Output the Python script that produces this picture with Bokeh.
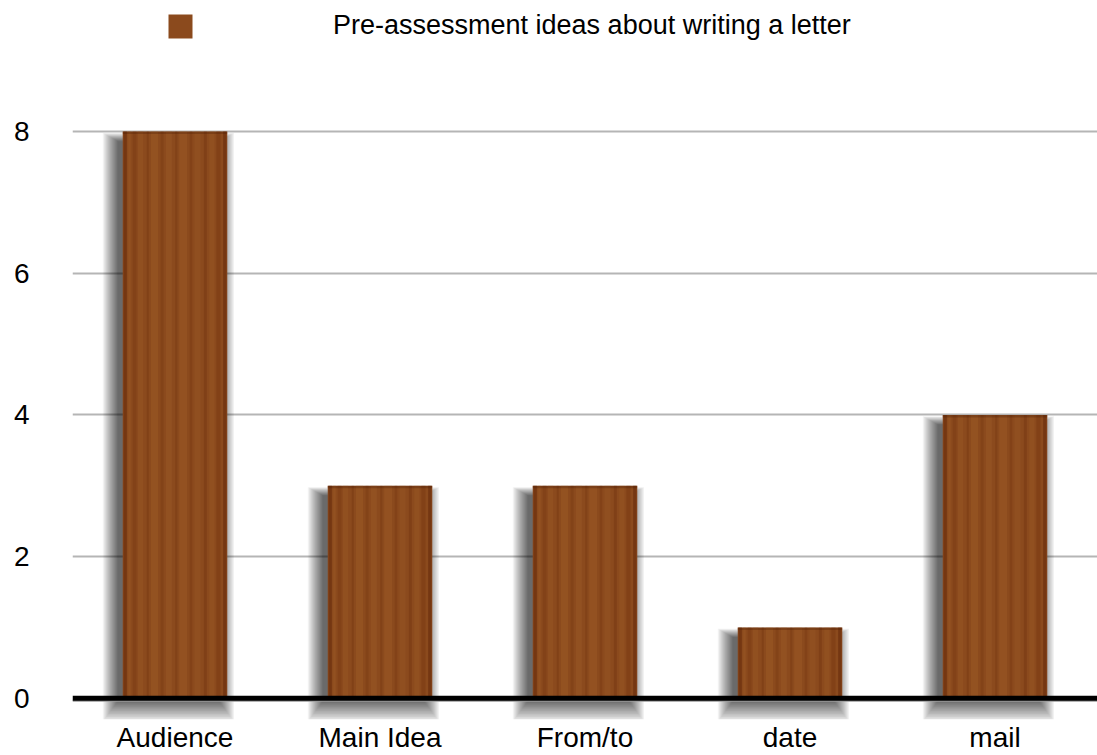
from bokeh.plotting import figure
from bokeh.models import FactorRange, Range1d, FixedTicker, Span, Legend, LegendItem, ColumnDataSource
from bokeh.transform import dodge
from bokeh.embed import file_html
from bokeh.resources import INLINE

categories = ["Audience", "Main Idea", "From/to", "date", "mail"]
values = [8, 3, 3, 1, 4]
y_ticks = [0, 2, 4, 6, 8]
series_name = "Pre-assessment ideas about writing a letter"

src = ColumnDataSource(dict(cat=categories, val=values))

BAR_W = 0.51

p = figure(width=1097, height=755, output_backend="svg", toolbar_location=None,
           x_range=FactorRange(*categories, range_padding=0),
           y_range=Range1d(-0.30, 9.85),
           min_border_left=72, min_border_right=0, min_border_top=0, min_border_bottom=0)
p.outline_line_color = None
p.background_fill_color = "white"
p.border_fill_color = "white"

# grid
p.xgrid.grid_line_color = None
p.ygrid.ticker = FixedTicker(ticks=[2, 4, 6, 8])
p.ygrid.grid_line_color = "#b5b5b5"
p.ygrid.grid_line_width = 2

# axes
p.yaxis.ticker = FixedTicker(ticks=y_ticks)
p.yaxis.axis_line_color = None
p.yaxis.major_tick_line_color = None
p.yaxis.major_tick_out = 0
p.yaxis.major_tick_in = 0
p.yaxis.minor_tick_line_color = None
p.yaxis.major_label_text_font = "Liberation Sans"
p.yaxis.major_label_text_font_size = "28px"
p.yaxis.major_label_text_color = "black"
p.yaxis.major_label_standoff = 43

p.xaxis.axis_line_color = None
p.xaxis.major_tick_line_color = None
p.xaxis.major_tick_out = 0
p.xaxis.major_tick_in = 0
p.xaxis.minor_tick_line_color = None
p.xaxis.major_label_text_font = "Liberation Sans"
p.xaxis.major_label_text_font_size = "28px"
p.xaxis.major_label_text_color = "black"
p.xaxis.major_label_standoff = 2

# soft drop shadow (layered translucent rects, biased to the lower left)
n_layers = 16
for i in range(n_layers):
    k = ((n_layers - i) / n_layers) ** 1.2
    p.vbar(x=dodge("cat", -0.032, range=p.x_range), top=dodge("val", -0.14 + 0.12 * k),
           source=src, width=BAR_W - 0.02 + 0.15 * k, bottom=-0.03 - 0.3 * k,
           fill_color="black", fill_alpha=0.05, line_color=None)

# baseline
p.add_layout(Span(location=-0.035, dimension="width", line_color="#9a9a9a", line_width=2))
p.add_layout(Span(location=0, dimension="width", line_color="black", line_width=5))

# wooden bars
bars = p.vbar(x="cat", top="val", source=src, width=BAR_W, bottom=0,
              fill_color="#8b4a1d", line_color=None)

# wood grain stripes (styling only)
grain = [(-0.243, 0.016, "#5a2206", 0.45), (-0.222, 0.012, "#a9672f", 0.25),
         (-0.197, 0.018, "#6b2c0a", 0.25), (-0.168, 0.026, "#a4622c", 0.25),
         (-0.133, 0.01, "#5e2306", 0.22), (-0.1, 0.034, "#b27034", 0.22),
         (-0.063, 0.014, "#6b2c0a", 0.22), (-0.03, 0.03, "#a9672f", 0.25),
         (0.006, 0.01, "#5e2306", 0.2), (0.04, 0.038, "#b06d34", 0.22),
         (0.078, 0.012, "#6b2c0a", 0.25), (0.11, 0.03, "#a4622c", 0.22),
         (0.148, 0.014, "#5e2306", 0.25), (0.18, 0.026, "#a9672f", 0.2),
         (0.212, 0.02, "#6b2c0a", 0.28), (0.243, 0.016, "#5a2206", 0.45)]
for off, w, col, a in grain:
    p.vbar(x=dodge("cat", off, range=p.x_range), top="val", source=src,
           width=w, bottom=0, fill_color=col, fill_alpha=a, line_color=None)

# slight top darkening
p.vbar(x="cat", top="val", source=src, width=BAR_W, bottom=dodge("val", -0.035),
       fill_color="#4a1a04", fill_alpha=0.3, line_color=None)

legend = Legend(items=[LegendItem(label=series_name, renderers=[bars])],
                location=(93, 678), glyph_width=30, glyph_height=30,
                label_standoff=138, padding=0, margin=0, spacing=0,
                border_line_color=None, background_fill_alpha=0,
                label_text_font="Liberation Sans", label_text_font_size="27px",
                label_text_color="black")
p.add_layout(legend, "center")

open("out.html", "w").write(file_html(p, INLINE))
